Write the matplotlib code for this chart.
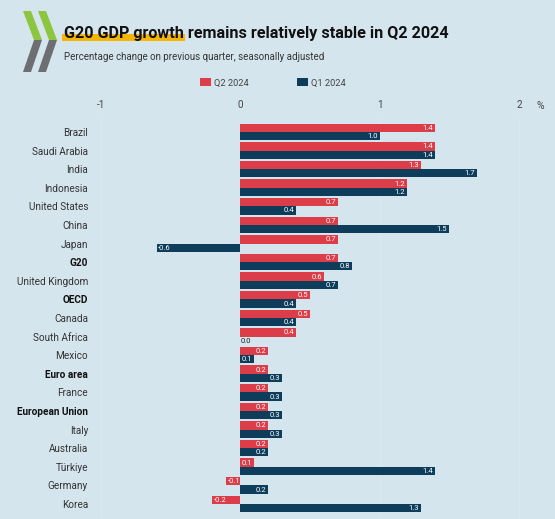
import matplotlib.pyplot as plt
from matplotlib.patches import Polygon, Rectangle
import numpy as np

countries = ["Brazil", "Saudi Arabia", "India", "Indonesia", "United States", "China",
             "Japan", "G20", "United Kingdom", "OECD", "Canada", "South Africa", "Mexico",
             "Euro area", "France", "European Union", "Italy", "Australia", "Türkiye",
             "Germany", "Korea"]
q2_2024 = [1.4, 1.4, 1.3, 1.2, 0.7, 0.7, 0.7, 0.7, 0.6, 0.5, 0.5, 0.4, 0.2,
           0.2, 0.2, 0.2, 0.2, 0.2, 0.1, -0.1, -0.2]
q1_2024 = [1.0, 1.4, 1.7, 1.2, 0.4, 1.5, -0.6, 0.8, 0.7, 0.4, 0.4, 0.0, 0.1,
           0.3, 0.3, 0.3, 0.3, 0.2, 1.4, 0.2, 1.3]
aggregates = ["G20", "OECD", "Euro area", "European Union"]
xticks = [-1, 0, 1, 2]

BG = "#d5e5ee"
RED = "#dc3d48"
BLUE = "#0e3d5c"
W, H = 555, 519
FONT = "Roboto"

fig = plt.figure(figsize=(W / 100, H / 100), dpi=100, facecolor=BG)
renderer = fig.canvas.get_renderer()


def fit_width(txt, target_px):
    # shrink/grow font so the text spans roughly target_px
    bb = txt.get_window_extent(renderer=renderer)
    txt.set_fontsize(txt.get_fontsize() * target_px / bb.width)


# decoration layer in pixel coordinates
deco = fig.add_axes([0, 0, 1, 1], zorder=0)
deco.set_xlim(0, W)
deco.set_ylim(H, 0)
deco.axis("off")

# OECD-like logo
for x0 in (23, 38):
    deco.add_patch(Polygon([(x0, 11), (x0 + 8, 11), (x0 + 19, 40), (x0 + 11, 40)],
                           closed=True, color="#8cc63f", lw=0))
    deco.add_patch(Polygon([(x0 + 11, 40), (x0 + 19, 40), (x0 + 8, 72), (x0, 72)],
                           closed=True, color="#6d6e71", lw=0))

title_str = "G20 GDP growth remains relatively stable in Q2 2024"
title = deco.text(64, 38, title_str, fontsize=13, fontweight="bold", family=FONT,
                  color="#111111", va="baseline", ha="left", zorder=2)
fit_width(title, 385)
# yellow highlight under the first words
probe = deco.text(64, 38, "G20 GDP growth", fontsize=title.get_fontsize(),
                  fontweight="bold", family=FONT, va="baseline", ha="left", alpha=0)
hw = probe.get_window_extent(renderer=renderer).width
probe.remove()
deco.add_patch(Rectangle((62, 34), hw + 3, 7, color="#f7b500", lw=0, zorder=1))

sub = deco.text(64, 57, "Percentage change on previous quarter, seasonally adjusted",
                fontsize=7.5, family=FONT, color="#333333", va="center", ha="left")
fit_width(sub, 262)

# main chart
ax = fig.add_axes([95 / W, 2 / H, 450 / W, 399 / H], zorder=1)
ax.set_facecolor("none")
y = np.arange(len(countries))
h = 0.445
b2 = ax.barh(y - h / 2, q2_2024, height=h, color=RED, label="Q2 2024", zorder=3)
b1 = ax.barh(y + h / 2, q1_2024, height=h, color=BLUE, label="Q1 2024", zorder=3)

for bars, vals in ((b2, q2_2024), (b1, q1_2024)):
    for bar, v in zip(bars, vals):
        yc = bar.get_y() + bar.get_height() / 2
        if v > 0:
            ax.annotate(f"{v:.1f}", (v, yc), xytext=(-1.5, 0), textcoords="offset points",
                        ha="right", va="center", fontsize=5.5, family=FONT,
                        color="white", zorder=4)
        elif v < 0:
            ax.annotate(f"{v:.1f}", (v, yc), xytext=(1, 0), textcoords="offset points",
                        ha="left", va="center", fontsize=5.5, family=FONT,
                        color="white", zorder=4)
        else:
            ax.annotate(f"{v:.1f}", (0, yc), xytext=(0.5, 0), textcoords="offset points",
                        ha="left", va="center", fontsize=5.5, family=FONT,
                        color="#222222", zorder=4)

ax.set_xlim(-1.043, 2.187)
ax.set_ylim(20.7, -0.75)
ax.set_yticks(y)
ax.set_yticklabels(countries)
for lab in ax.get_yticklabels():
    lab.set_fontsize(7.2)
    lab.set_color("#333333")
    lab.set_family(FONT)
    if lab.get_text() in aggregates:
        lab.set_fontweight("bold")
        lab.set_color("#111111")
ax.tick_params(axis="y", length=0, pad=5)

ax.xaxis.tick_top()
ax.set_xticks(xticks)
ax.set_xticklabels([str(t) for t in xticks])
ax.tick_params(axis="x", length=0, pad=6, labelsize=7.2, labelcolor="#444444")
for lab in ax.get_xticklabels():
    lab.set_family(FONT)
for t in (-1, 1, 2):
    ax.axvline(t, color="#dce8ef", lw=0.8, zorder=1)
for s in ax.spines.values():
    s.set_visible(False)

deco.text(540, 106, "%", fontsize=7.5, family=FONT, color="#444444",
          va="center", ha="center")

fig.legend(handles=[b2, b1], loc="center", bbox_to_anchor=(273 / W, 1 - 83 / H),
           ncol=2, frameon=False, handlelength=1.2, handleheight=0.9,
           columnspacing=5.2, handletextpad=0.3, labelcolor="#444444",
           prop={"family": FONT, "size": 6.7})

fig.savefig("out.png", dpi=100, facecolor=BG)
